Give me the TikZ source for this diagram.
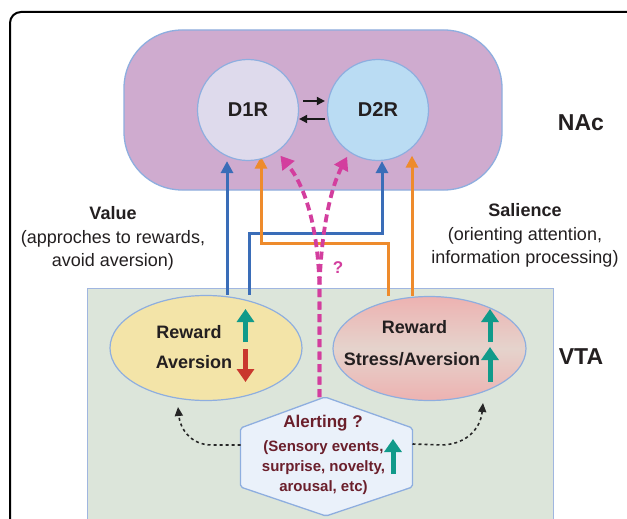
\documentclass[tikz,border=0pt]{standalone}
\usepackage{fontspec}
\setmainfont{Liberation Sans}
\usetikzlibrary{arrows.meta,shapes.geometric,calc}
\pgfdeclarelayer{back}
\pgfdeclarelayer{mid}
\pgfsetlayers{back,mid,main}
\definecolor{nacf}{HTML}{CFABCF}
\definecolor{cb}{HTML}{8EAEDF}
\definecolor{d1f}{HTML}{DEDAEC}
\definecolor{d2f}{HTML}{BADCF3}
\definecolor{vtaf}{HTML}{DCE5DA}
\definecolor{vtab}{HTML}{A0B6E0}
\definecolor{yel}{HTML}{F3E4A8}
\definecolor{pk}{HTML}{EDB2B1}
\definecolor{pkm}{HTML}{E5D3CC}
\definecolor{bluel}{HTML}{3A6DB8}
\definecolor{orl}{HTML}{EE8B2C}
\definecolor{mag}{HTML}{D33E9E}
\definecolor{tealc}{HTML}{119A8A}
\definecolor{redc}{HTML}{C9382E}
\definecolor{hexf}{HTML}{EAF1FA}
\definecolor{hext}{HTML}{6B1F2B}
\definecolor{txt}{HTML}{231F20}
\tikzset{
  lbl/.style={text=txt, font=\bfseries\fontsize{18}{21}\selectfont, inner sep=0pt},
  bluearr/.style={draw=bluel, line width=3pt, -{Triangle[width=12pt,length=12pt]}},
  orarr/.style={draw=orl, line width=3pt, -{Triangle[width=12pt,length=12pt]}},
  magarr/.style={draw=mag, line width=3.8pt, dash pattern=on 8pt off 4.5pt, -{Triangle[width=15pt,length=13pt]}},
  uparr/.style={draw=tealc, line width=5pt, -{Triangle[width=17pt,length=13pt]}},
  downarr/.style={draw=redc, line width=5pt, -{Triangle[width=17pt,length=13pt]}},
  blkarr/.style={draw=black!90, line width=1.7pt, -{Triangle[width=8pt,length=8pt]}},
  dotarr/.style={draw=black!85, line width=1.6pt, dash pattern=on 3pt off 3pt, -{Triangle[width=8pt,length=9pt]}},
}
\begin{document}
\begin{tikzpicture}[x=1pt,y=-1pt]
\useasboundingbox (0,0) rectangle (627,519);
\begin{pgfonlayer}{back}
\fill[white] (0,0) rectangle (627,519);
\draw[line width=2pt, rounded corners=11pt] (10,12) rectangle (680,580);
\node[draw=cb, fill=nacf, line width=1.3pt, rounded corners=58pt, minimum width=378pt, minimum height=160pt] (nac) at (313,110) {};
\node[draw=vtab, fill=vtaf, line width=1.3pt, anchor=north west, minimum width=466pt, minimum height=272pt] (vta) at (87,288) {};
\end{pgfonlayer}

% NAc circles
\node[circle, draw=cb, fill=d1f, line width=1.2pt, minimum size=101pt, text=txt, font=\bfseries\fontsize{20}{24}\selectfont] (d1) at (248,110) {D1R};
\node[circle, draw=cb, fill=d2f, line width=1.2pt, minimum size=101pt, text=txt, font=\bfseries\fontsize{20}{24}\selectfont] (d2) at (378,110) {D2R};
\draw[blkarr] ($(d1.east)+(4,-9)$) -- ($(d2.west)+(-2,-9)$);
\draw[blkarr] ($(d2.west)+(-2,9)$) -- ($(d1.east)+(0,9)$);

\node[text=txt, font=\bfseries\fontsize{23}{26}\selectfont, inner sep=0pt] (naclab) at (581,123) {NAc};
\node[text=txt, font=\bfseries\fontsize{23}{26}\selectfont, inner sep=0pt] (vtalab) at (581,357) {VTA};

\node[text=txt, align=center, font=\fontsize{18}{23.5}\selectfont, inner sep=0pt] (val) at (113,238.5) {{\bfseries Value}\\(approches to rewards,\\avoid aversion)};
\node[text=txt, align=center, font=\fontsize{18}{23.5}\selectfont, inner sep=0pt] (sal) at (525,235.5) {{\bfseries Salience}\\(orienting attention,\\information processing)};

% VTA ellipses
\node[ellipse, draw=cb, fill=yel, line width=1.2pt, minimum width=192pt, minimum height=105pt] (rl) at (206,348) {};
\node[ellipse, draw=cb, top color=pk, bottom color=pk, middle color=pkm, line width=1.2pt, minimum width=193pt, minimum height=104pt] (rr) at (429.5,348.5) {};
\node[lbl] (rlt1) at (189,332) {Reward};
\node[lbl] (rlt2) at (194,362) {Aversion};
\node[lbl] (rrt1) at (414.5,327) {Reward};
\node[lbl] (rrt2) at (412,359) {Stress/Aversion};
\draw[uparr] (245.5,342) -- (245.5,309);
\draw[downarr] (245.5,349) -- (245.5,382);
\draw[uparr] (490,342) -- (490,309);
\draw[uparr] (490,382) -- (490,347);

% Alerting hexagon
\draw[draw=cb, fill=hexf, line width=1.3pt, rounded corners=2pt]
  (325,397) coordinate (hxtop) -- (412.5,428) -- (412.5,487) -- (326,516) -- (240.5,487) -- (240.5,428) -- cycle;
\coordinate (hxl) at (240.5,445);
\coordinate (hxr) at (412.5,444);
\node[text=hext, font=\bfseries\fontsize{17}{20}\selectfont, inner sep=0pt] (alert) at (323,423) {Alerting ?};
\node[text=hext, align=center, font=\bfseries\fontsize{15}{20}\selectfont, inner sep=0pt] (alertx) at (323.5,468) {(Sensory events,\\surprise, novelty,\\arousal, etc)};
\draw[uparr] (393,474) -- (393,439);

\draw[dotarr] (hxl) -- (212,445) .. controls (190,445) and (180,428) .. (178,407);
\draw[dotarr] (hxr) -- (442,445) .. controls (470,444) and (481,425) .. (483,403);

% connectors
\begin{pgfonlayer}{mid}
\draw[bluearr] (rl.north -| 227,0) -- (d1.south -| 227,0);
\draw[bluearr] (rl.north -| 249,0) -- (249,233) -- (382,233) -- (d2.south -| 382,0);
\draw[orarr, shorten >=-4.5pt] (rr.north -| 388,0) -- (388,243) -- (261,243) -- (d1.south -| 261,0);
\draw[orarr, shorten >=-5.5pt] (rr.north -| 412,0) -- (d2.south -| 412,0);
\draw[magarr, shorten >=5pt] (hxtop -| 319.5,0) -- (319.5,290) .. controls (319,250) and (312,195) .. (d1.-55);
\draw[magarr, shorten >=5pt] (hxtop -| 319.5,0) -- (319.5,290) .. controls (320,250) and (327,195) .. (d2.-124);
\end{pgfonlayer}
\node[text=mag, font=\bfseries\fontsize{17}{20}\selectfont, inner sep=0pt] (qm) at (338,268) {?};
\end{tikzpicture}
\end{document}
